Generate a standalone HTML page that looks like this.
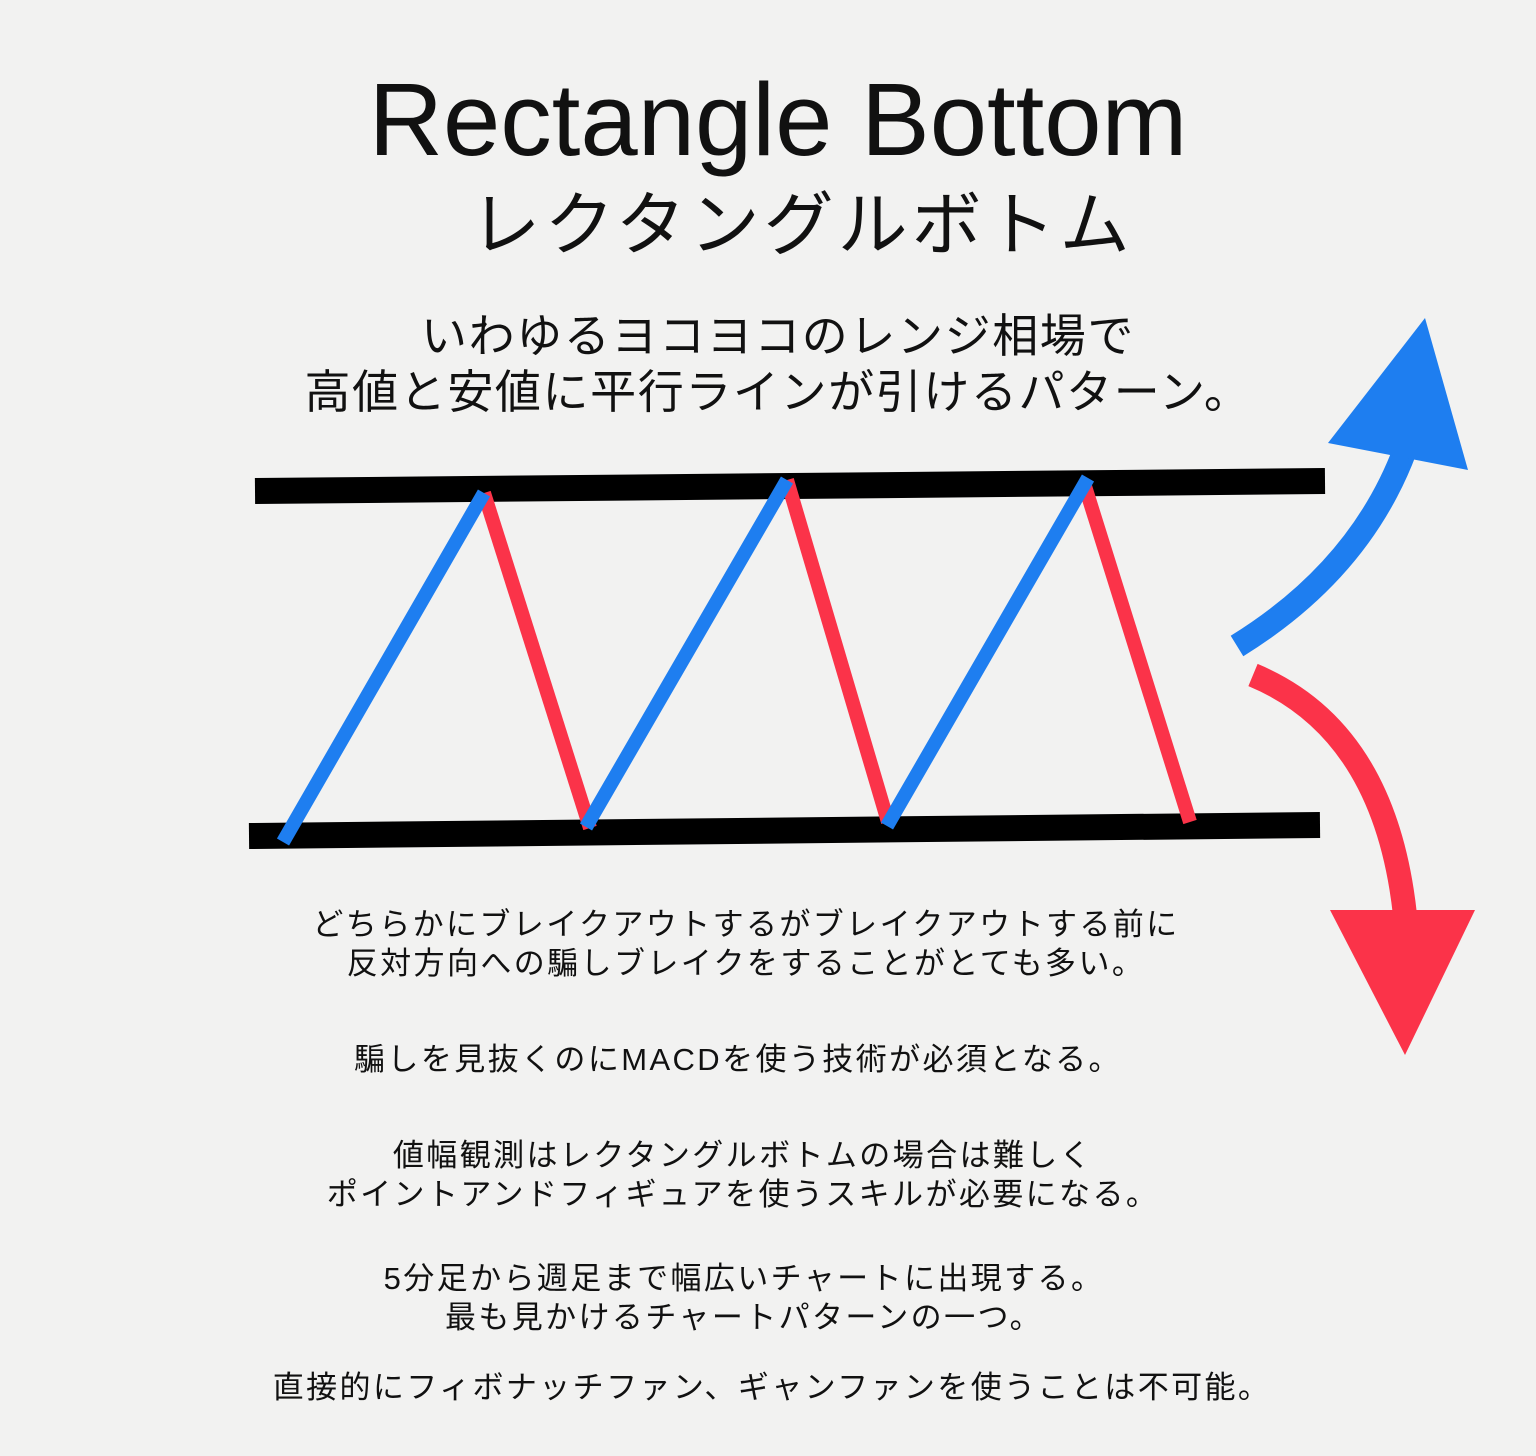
<!DOCTYPE html>
<html><head><meta charset="utf-8">
<style>
html,body{margin:0;padding:0;}
body{width:1536px;height:1456px;background:#f2f2f1;position:relative;overflow:hidden;font-family:"Liberation Sans","Noto Sans CJK JP",sans-serif;color:#111;}
.t{position:absolute;left:0;width:1536px;text-align:center;white-space:nowrap;}
.b{font-size:31px;line-height:39px;letter-spacing:2.4px;}
</style></head><body>
<div class="t" style="top:58px;left:10px;font-size:103px;line-height:124px;">Rectangle Bottom</div>
<div class="t" style="top:180px;left:34px;font-size:70px;line-height:90px;letter-spacing:4px;">レクタングルボトム</div>
<div class="t" style="top:308px;left:10px;font-size:46px;line-height:56px;letter-spacing:1.6px;">いわゆるヨコヨコのレンジ相場で<br>高値と安値に平行ラインが引けるパターン。</div>
<svg width="1536" height="1456" style="position:absolute;left:0;top:0">
<line x1="255" y1="491" x2="1325" y2="481" stroke="#000" stroke-width="26"/>
<line x1="249" y1="836" x2="1320" y2="825" stroke="#000" stroke-width="26"/>
<g stroke-width="14" stroke-linecap="butt">
<line x1="484" y1="493" x2="590" y2="828" stroke="#fb3349"/>
<line x1="787" y1="480" x2="888" y2="822" stroke="#fb3349"/>
<line x1="1084" y1="483" x2="1190" y2="822" stroke="#fb3349"/>
<line x1="283" y1="842" x2="484" y2="493" stroke="#1e7ef0"/>
<line x1="586" y1="827" x2="787" y2="480" stroke="#1e7ef0"/>
<line x1="887" y1="826" x2="1088" y2="478" stroke="#1e7ef0"/>
</g>
<path d="M1237,646 Q1360,570 1405,450" fill="none" stroke="#1e7ef0" stroke-width="24"/>
<polygon points="1328,443 1425,318 1468,470" fill="#1e7ef0"/>
<path d="M1253,675 Q1385,730 1405,915" fill="none" stroke="#fb3349" stroke-width="24"/>
<polygon points="1330,910 1475,910 1405,1055" fill="#fb3349"/>
</svg>
<div class="t b" style="top:905px;left:-22px;">どちらかにブレイクアウトするがブレイクアウトする前に<br>反対方向への騙しブレイクをすることがとても多い。</div>
<div class="t b" style="top:1040px;left:-30px;">騙しを見抜くのにMACDを使う技術が必須となる。</div>
<div class="t b" style="top:1136px;left:-25px;">値幅観測はレクタングルボトムの場合は難しく<br>ポイントアンドフィギュアを使うスキルが必要になる。</div>
<div class="t b" style="top:1259px;left:-24px;">5分足から週足まで幅広いチャートに出現する。<br>最も見かけるチャートパターンの一つ。</div>
<div class="t b" style="top:1368px;left:4px;">直接的にフィボナッチファン、ギャンファンを使うことは不可能。</div>
</body></html>
